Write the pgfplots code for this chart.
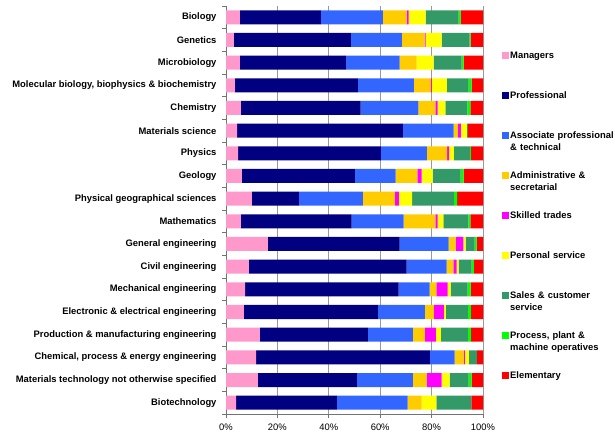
\documentclass[border=0pt]{standalone}
\usepackage{pgfplots}
\pgfplotsset{compat=1.18}
\usepackage{pgfplotstable}
\usepackage{fontspec}
\setmainfont{Liberation Sans}

\definecolor{cMgr}{HTML}{FF99CC}
\definecolor{cProf}{HTML}{000080}
\definecolor{cAssoc}{HTML}{3366FF}
\definecolor{cAdmin}{HTML}{FFCC00}
\definecolor{cSkill}{HTML}{FF00FF}
\definecolor{cPers}{HTML}{FFFF00}
\definecolor{cSales}{HTML}{339966}
\definecolor{cProc}{HTML}{00FF00}
\definecolor{cElem}{HTML}{FF0000}

\pgfplotstableread{
y mgr prof assoc admin skilled personal sales process elem
0 5.4 31.5 24.1 9.3 0.8 6.6 12.8 0.8 8.7
1 3.1 45.5 19.8 8.9 0.4 6.2 10.9 0.4 4.8
2 5.4 41.2 21.0 6.6 0.0 6.6 10.9 0.8 7.5
3 3.5 47.8 21.8 6.6 0.4 5.8 8.5 1.2 4.4
4 5.8 46.6 22.5 6.6 0.8 3.1 8.5 1.2 4.9
5 4.3 64.5 19.8 1.6 1.2 2.3 0.4 0.0 5.9
6 4.7 55.6 17.9 7.8 0.8 1.9 6.2 0.4 4.7
7 6.2 43.9 15.9 8.5 1.6 4.3 10.9 1.2 7.5
8 10.1 18.3 24.9 12.4 1.6 5.1 16.3 1.2 10.1
9 5.8 43.1 20.2 12.4 0.8 2.3 9.7 0.8 4.9
10 16.3 51.3 19.0 2.7 3.1 0.8 3.5 0.8 2.5
11 8.9 61.4 15.5 2.7 1.2 0.8 5.1 0.8 3.6
12 7.4 59.8 12.0 2.7 4.3 1.2 6.6 1.2 4.8
13 7.0 52.1 18.3 3.5 3.9 0.8 8.5 1.2 4.7
14 13.2 42.0 17.5 4.7 4.3 1.9 10.5 1.2 4.7
15 11.7 67.6 9.7 3.5 0.4 1.6 3.1 0.0 2.4
16 12.4 38.5 21.8 5.4 5.8 3.1 7.4 1.2 4.4
17 3.9 39.2 27.6 5.4 0.0 5.8 13.6 0.0 4.5
}\data

\begin{document}
\begin{tikzpicture}
\path[use as bounding box] (0pt,0pt) rectangle (615pt,435pt);
\begin{axis}[
  at={(226pt,21pt)}, anchor=south west,
  scale only axis, width=257pt, height=408pt,
  xbar stacked, bar width=14pt,
  xmin=0, xmax=100, ymin=-0.5, ymax=17.5, y dir=reverse,
  axis x line*=bottom, axis y line*=left,
  axis line style={draw=black!55, line width=0.8pt},
  tick align=outside,
  xtick={0,20,...,100},
  xticklabels={0\%,20\%,40\%,60\%,80\%,100\%},
  major tick length=4pt, minor tick length=4pt,
  xtick style={draw=black!55, line width=0.8pt},
  xmajorgrids, grid style={draw=black!40, line width=0.7pt},
  ytick={0,...,17},
  yticklabels={Biology,Genetics,Microbiology,{Molecular biology, biophysics \& biochemistry},Chemistry,Materials science,Physics,Geology,Physical geographical sciences,Mathematics,General engineering,Civil engineering,Mechanical engineering,Electronic \& electrical engineering,Production \& manufacturing engineering,{Chemical, process \& energy engineering},Materials technology not otherwise specified,Biotechnology},
  every major y tick/.append style={draw=none},
  minor ytick={-0.5,0.5,...,17.5},
  every minor y tick/.append style={draw=black!55, line width=0.8pt},
  xticklabel style={font=\fontsize{9.4}{11}\selectfont, yshift=-2pt},
  yticklabel style={font=\bfseries\fontsize{9.4}{11}\selectfont, xshift=-2pt},
  legend style={at={(1,1)}, anchor=north west, xshift=19pt, yshift=-44pt,
    draw=none, fill=none, inner sep=0pt, row sep=0pt,
    font=\bfseries\fontsize{9.4}{11.5}\selectfont,
    nodes={anchor=base west, text width=110pt, align=left, text height=7pt, text depth=30pt, inner sep=1.5pt}},
  legend image code/.code={\fill[#1] (0pt,-0.3pt) rectangle (6.5pt,6.4pt);},
]
\addplot[fill=cMgr, draw=none] table[x=mgr, y=y] {\data};
\addplot[fill=cProf, draw=none] table[x=prof, y=y] {\data};
\addplot[fill=cAssoc, draw=none] table[x=assoc, y=y] {\data};
\addplot[fill=cAdmin, draw=none] table[x=admin, y=y] {\data};
\addplot[fill=cSkill, draw=none] table[x=skilled, y=y] {\data};
\addplot[fill=cPers, draw=none] table[x=personal, y=y] {\data};
\addplot[fill=cSales, draw=none] table[x=sales, y=y] {\data};
\addplot[fill=cProc, draw=none] table[x=process, y=y] {\data};
\addplot[fill=cElem, draw=none] table[x=elem, y=y] {\data};
\legend{Managers,Professional,{Associate professional\\\& technical},{Administrative \&\\secretarial},Skilled trades,Personal service,{Sales \& customer\\service},{Process, plant \&\\machine operatives},Elementary}
\end{axis}
\end{tikzpicture}
\end{document}
